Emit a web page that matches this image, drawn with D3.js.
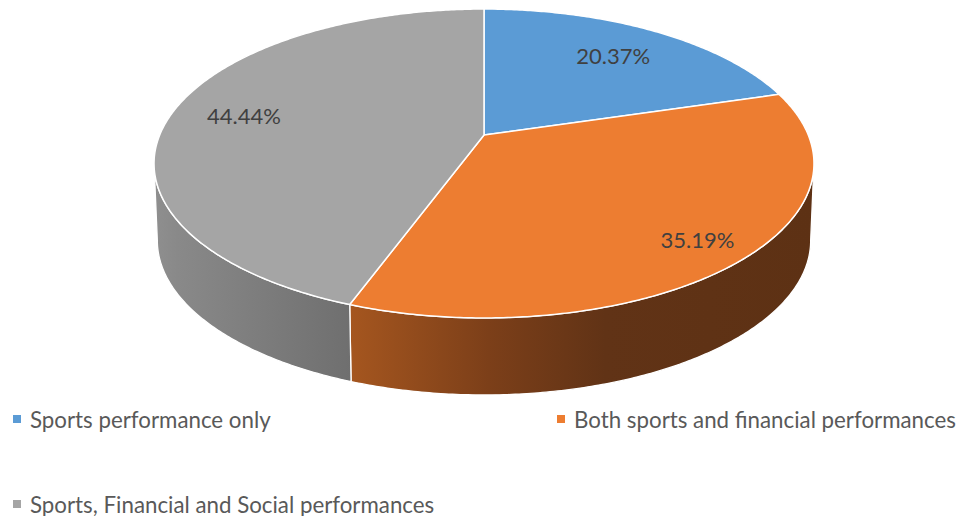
<!DOCTYPE html>
<html>
<head>
<meta charset="utf-8">
<script src="https://cdn.jsdelivr.net/npm/d3@7"></script>
<style>
  html, body { margin: 0; padding: 0; background: #ffffff; }
  svg { display: block; }
  text { font-family: Lato, "Open Sans", sans-serif; fill: #595959; }
</style>
</head>
<body>
<script>
// Performance focus shares (percent)
const categories = [
  "Sports performance only",
  "Both sports and financial performances",
  "Sports, Financial and Social performances"
];
const values = [20.37, 35.19, 44.44];
const topColors = ["#5b9bd5", "#ed7d31", "#a5a5a5"];

const W = 961, H = 516;

// Tilted-disc projection: a unit circle seen in perspective
const cx = 484, cy = 135;       // pie centre on the top face
const A = 324.3, B = 149.2;     // horizontal / vertical radius factors
const k = 0.1845;               // perspective strength (front appears larger)
const depth = 77;               // thickness of the disc
const bottomScale = 0.99;
const labelRadius = [0.74, 0.85, 0.77];

function proj(theta, r, bottom) {
  const u = r * Math.sin(theta), v = -r * Math.cos(theta);
  const w = 1 - k * v;
  let x = A * u / w, y = B * v / w;
  if (bottom) { x *= bottomScale; y += depth; }
  return [cx + x, cy + y];
}
function arcPoints(a0, a1, r, bottom) {
  const n = Math.max(2, Math.ceil(Math.abs(a1 - a0) / 0.01));
  return d3.range(n + 1).map(i => proj(a0 + (a1 - a0) * i / n, r, bottom));
}

const svg = d3.select("body").append("svg")
  .attr("width", W).attr("height", H);
const defs = svg.append("defs");

const arcs = d3.pie().sort(null).value(d => d)(values);
const line = d3.line();

// Side wall gradients (shaded rim), in order of visible walls
const wallStops = [
  [[0, "#a5561f"], [0.3, "#7c3f19"], [0.55, "#613316"], [1, "#5d3114"]],
  [[0, "#8f8f8f"], [0.12, "#898989"], [1, "#6f6f6f"]]
];

// visible front rim runs between the two horizontal extremes
const frontStart = Math.acos(-k), frontEnd = 2 * Math.PI - Math.acos(-k);

const walls = svg.append("g");
let g = 0;
arcs.forEach((a, i) => {
  const s = Math.max(a.startAngle, frontStart), e = Math.min(a.endAngle, frontEnd);
  if (e <= s) return;
  const topPts = arcPoints(s, e, 1, false);
  const botPts = arcPoints(s, e, 1, true).reverse();
  const xs = topPts.concat(botPts).map(p => p[0]);
  const id = "wall" + i;
  const grad = defs.append("linearGradient").attr("id", id)
    .attr("gradientUnits", "userSpaceOnUse")
    .attr("x1", d3.min(xs)).attr("x2", d3.max(xs)).attr("y1", 0).attr("y2", 0);
  const stops = wallStops[g++];
  stops.forEach(st => grad.append("stop").attr("offset", st[0]).attr("stop-color", st[1]));
  walls.append("path")
    .attr("d", line(topPts.concat(botPts)) + "Z")
    .attr("fill", `url(#${id})`)
    .attr("stroke", "#ffffff").attr("stroke-width", 1.3)
    .attr("stroke-linejoin", "round");
});

// Top face slices
const tops = svg.append("g");
arcs.forEach((a, i) => {
  const pts = [proj(0, 0, false)].concat(arcPoints(a.startAngle, a.endAngle, 1, false));
  tops.append("path")
    .attr("d", line(pts) + "Z")
    .attr("fill", topColors[i])
    .attr("stroke", "#ffffff").attr("stroke-width", 1.5)
    .attr("stroke-linejoin", "round");
});

// Data labels
const fmt = d3.format(".2f");
arcs.forEach((a, i) => {
  const mid = (a.startAngle + a.endAngle) / 2;
  const p = proj(mid, labelRadius[i], false);
  svg.append("text")
    .attr("x", p[0]).attr("y", p[1])
    .attr("text-anchor", "middle").attr("dominant-baseline", "central")
    .attr("font-size", 22).style("fill", "#404040")
    .text(fmt(a.data) + "%");
});

// Legend: two columns
const legendPos = [[13, 419], [557, 419], [13, 504]];
const legend = svg.append("g");
categories.forEach((c, i) => {
  const [lx, ly] = legendPos[i];
  legend.append("rect")
    .attr("x", lx).attr("y", ly - 4).attr("width", 8).attr("height", 8)
    .attr("fill", topColors[i]);
  legend.append("text")
    .attr("x", lx + 17).attr("y", ly)
    .attr("dominant-baseline", "central")
    .attr("font-size", 22.3)
    .text(c);
});
</script>
</body>
</html>
